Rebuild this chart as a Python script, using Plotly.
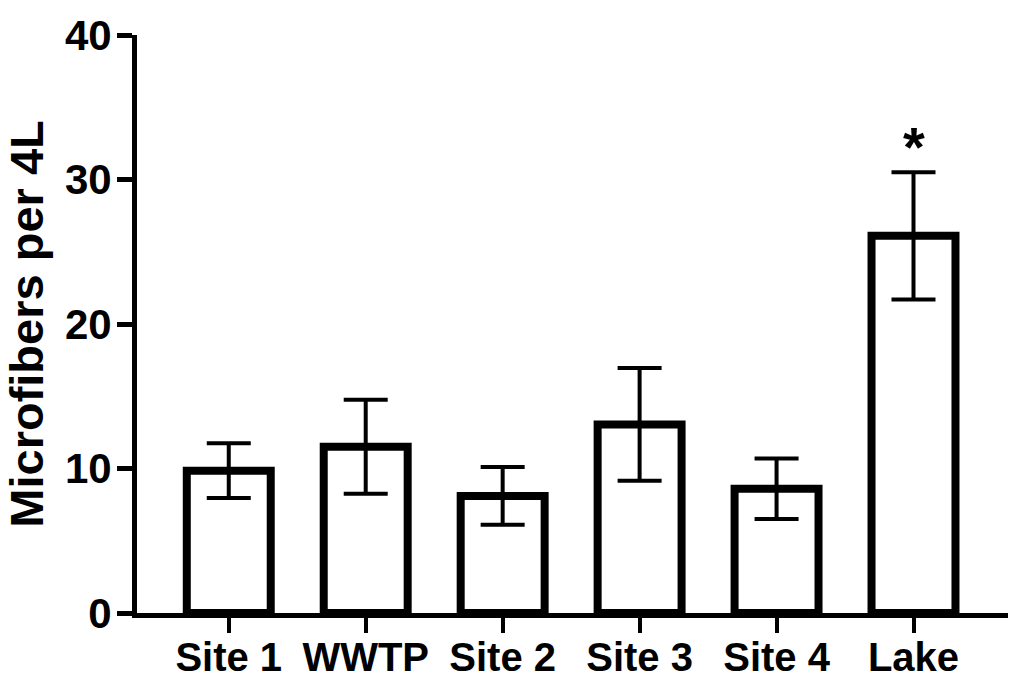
import plotly.graph_objects as go

categories = ["Site 1", "WWTP", "Site 2", "Site 3", "Site 4", "Lake"]
means = [9.85, 11.5, 8.1, 13.05, 8.6, 26.1]
sems = [1.9, 3.25, 2.0, 3.9, 2.1, 4.4]
y_ticks = [0, 10, 20, 30, 40]
sig_label = "*"
sig_category = "Lake"

FONT = "Liberation Sans, Arial, sans-serif"

fig = go.Figure()
fig.add_trace(go.Bar(
    x=categories, y=means,
    width=0.613,
    marker=dict(color="white", line=dict(color="black", width=8)),
    error_y=dict(type="data", array=sems, visible=True,
                 color="black", thickness=4, width=22),
    showlegend=False,
))

idx = categories.index(sig_category)
fig.add_annotation(
    x=sig_category, y=means[idx] + sems[idx],
    text=sig_label, showarrow=False,
    yanchor="middle", yshift=26,
    font=dict(family=FONT, size=56, color="black", weight="bold"),
)

fig.update_layout(
    template="none",
    width=1013, height=677,
    margin=dict(l=137, r=5, t=35, b=64),
    plot_bgcolor="white", paper_bgcolor="white",
    font=dict(family=FONT, color="black"),
    bargap=0.3,
)
fig.update_xaxes(
    range=[-0.67, 5.69], automargin=False,
    showline=True, linecolor="black", linewidth=5,
    ticks="outside", ticklen=15, tickwidth=4, tickcolor="black",
    ticklabelstandoff=-10,
    tickfont=dict(family=FONT, size=40, color="black", weight="bold"),
    showgrid=False, zeroline=False,
)
fig.update_yaxes(
    range=[0, 40], automargin=False,
    tickvals=y_ticks,
    showline=True, linecolor="black", linewidth=5,
    ticks="outside", ticklen=15, tickwidth=5, tickcolor="black",
    ticklabelstandoff=-3,
    tickfont=dict(family=FONT, size=42, color="black", weight="bold"),
    title=dict(text="Microfibers per 4L", standoff=12,
               font=dict(family=FONT, size=47, color="black", weight="bold")),
    showgrid=False, zeroline=False,
)

fig.write_html(
    "out.html",
    config={"displayModeBar": False},
    post_script="document.body.style.margin='0px';document.body.style.overflow='hidden';",
)
